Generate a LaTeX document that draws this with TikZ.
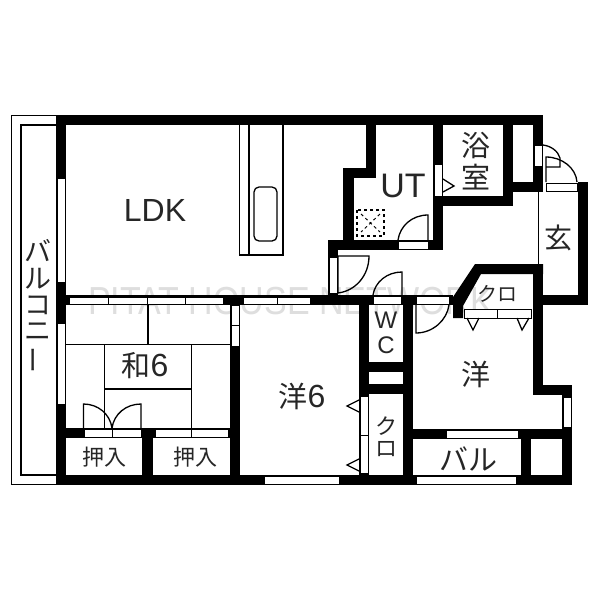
\documentclass[tikz,border=0pt]{standalone}
\usepackage{fontspec}
\setmainfont{Liberation Sans}
\newfontfamily\cjk{Noto Sans CJK JP}
\newcommand{\fs}[1]{\fontsize{#1}{#1}\selectfont}
\tikzset{
wall/.style={fill=black},
cellbox/.style={draw=black,fill=white,line width=1pt},
thin line/.style={line width=1.3pt},
label/.style={inner sep=0pt,text=black!85},
}
\begin{document}
\begin{tikzpicture}[x=1pt,y=-1pt]
\useasboundingbox (0,0) rectangle (600,600);
\fill[white] (0,0) rectangle (600,600);
% watermark
\node[inner sep=0pt,anchor=west,text=black!13,yscale=1.15] (mark) at (88,301) {\fs{34}PITAT HOUSE NETWORK};
% balcony
\draw[line width=1.5pt] (56,115.5) -- (11.5,115.5) -- (11.5,484.5) -- (56,484.5);
\draw[line width=1.5pt] (56,125) -- (21,125) -- (21,475) -- (56,475);
% kitchen
\draw[thin line] (239.5,125) -- (239.5,255) -- (283,255) -- (283,125);
\draw[thin line] (249,125) -- (249,255);
\draw[thin line,rounded corners=5pt] (254,187) rectangle (277,241);
% tatami
\draw[thin line] (66,344.5) -- (230,344.5);
\draw[thin line] (148,305) -- (148,344.5);
\draw[thin line] (104.5,344.5) -- (104.5,428);
\draw[thin line] (191.5,344.5) -- (191.5,428);
\draw[thin line] (104.5,389) -- (191.5,389);
% outer walls
\fill[wall] (56,115) rectangle (543,125);
\fill[wall] (56,115) rectangle (66,485);
\fill[wall] (56,475) rectangle (572,485);
% walls left side
\fill[wall] (66,295) rectangle (373,305);
\fill[wall] (230,295) rectangle (240,485);
\fill[wall] (66,428) rectangle (230,438);
\fill[wall] (142,428) rectangle (153,485);
% walls middle
\fill[wall] (359,295) rectangle (369,475);
\fill[wall] (403,295) rectangle (413,485);
\fill[wall] (369,362) rectangle (403,372);
\fill[wall] (369,384) rectangle (403,394);
\fill[wall] (373,295) rectangle (453,305);
% walls UT and bath
\fill[wall] (366,115) rectangle (376,178);
\fill[wall] (343,168) rectangle (376,178);
\fill[wall] (343,168) rectangle (354,250);
\fill[wall] (328,240) rectangle (443,250);
\fill[wall] (328,240) rectangle (338,305);
\fill[wall] (433,115) rectangle (443,250);
\fill[wall] (433,196) rectangle (513,206);
\fill[wall] (503,115) rectangle (513,206);
\fill[wall] (503,182) rectangle (543,192);
% walls entrance and right room
\fill[wall] (533,115) rectangle (543,192);
\fill[wall] (533,264) rectangle (543,395);
\fill[wall] (578,182) rectangle (588,305);
\fill[wall] (533,295) rectangle (588,305);
\fill[wall] (533,385) rectangle (572,395);
\fill[wall] (562,385) rectangle (572,485);
\fill[wall] (413,429) rectangle (572,439);
\fill[wall] (521,429) rectangle (531,485);
\fill[wall] (475,264) -- (543,264) -- (543,274) -- (481,274) -- (463,306) -- (463,318) -- (453,318) -- (453,297) -- cycle;
% entrance step
\draw[line width=1pt] (538,192) -- (538,264);
% windows
\draw[cellbox] (57,178) rectangle (65,282);
\draw[cellbox] (57,323) rectangle (65,404);
\foreach \xa/\xb in {69/108,108/147,147/185,185/223,243/277,277/310}
  \draw[cellbox] (\xa,297) rectangle (\xb,304);
\draw[cellbox] (231,305) rectangle (239,325);
\draw[cellbox] (231,325) rectangle (239,346);
\foreach \xa/\xb in {84/112,112/141,155/191,191/228}
  \draw[cellbox] (\xa,429) rectangle (\xb,437);
\draw[cellbox] (264,476) rectangle (339,484);
\draw[cellbox] (416,476) rectangle (516,484);
\draw[cellbox] (446,430) rectangle (518,438);
\draw[cellbox] (563,397) rectangle (571,427);
\draw[cellbox] (360,396) rectangle (368,435);
\draw[cellbox] (360,435) rectangle (368,473);
\draw[cellbox] (373,296) rectangle (401,304);
\draw[cellbox] (416,296) rectangle (449,304);
\draw[cellbox] (464,309) rectangle (497,318);
\draw[cellbox] (497,309) rectangle (531,318);
\draw[cellbox] (434,164) rectangle (442,196);
\draw[cellbox] (398,241) rectangle (428,249);
\draw[cellbox] (329,257) rectangle (337,293);
\draw[cellbox] (534,145) rectangle (542,166);
\draw[cellbox] (546,183) rectangle (577,191);
% doors
\draw[thin line] (83.5,428) -- (83.5,404) .. controls (98,404) and (110,414) .. (112,428);
\draw[thin line] (141,428) -- (141,404) .. controls (126,404) and (114,414) .. (112,428);
\draw[thin line] (402,295) -- (402,272) .. controls (387,272) and (375,282) .. (373,295);
\draw[thin line] (416,305) -- (416,333) .. controls (433,333) and (447,320) .. (449,305);
\draw[thin line] (428,240) -- (428,215) .. controls (412,215) and (400,226) .. (398,240);
\draw[thin line] (338,293) -- (338,256) -- (369,256) .. controls (369,276) and (355,291) .. (338,293);
\draw[thin line] (543,145) .. controls (551,146) and (558,151) .. (560,158) -- (560,167) -- (546,167);
\draw[thin line] (546,182) -- (546,157) .. controls (562,157) and (576,168) .. (577,182);
% triangles
\draw[thin line] (443,179) -- (454,186) -- (443,192);
\draw[thin line] (359,400) -- (347,406) -- (359,412);
\draw[thin line] (359,459) -- (347,465) -- (359,471);
\draw[thin line] (467,318) -- (473,330) -- (479,318);
\draw[thin line] (517,318) -- (522,330) -- (529,318);
% pan
\draw[line width=1.5pt,dashed] (357,210) rectangle (384,236);
\draw[line width=1pt,dashed] (361,214) -- (380,232) (380,214) -- (361,232);
% labels
\node[label] (ldk) at (155,210) {\fs{32}LDK};
\node[label] (ut) at (403,186) {\fs{34}UT};
\node[label] (yoku) at (476,146) {\cjk\fs{29}浴};
\node[label] (shitsu) at (476,177) {\cjk\fs{29}室};
\node[label] (gen) at (558,238) {\cjk\fs{28}玄};
\node[label] (kuro a) at (497,294) {\cjk\fs{20}クロ};
\node[label] (w) at (386,320) {\fs{24}W};
\node[label] (c) at (386,345) {\fs{24}C};
\node[label] (kuro b) at (386,426) {\cjk\fs{22}ク};
\node[label] (kuro c) at (386,449) {\cjk\fs{22}ロ};
\node[label] (you) at (476,374) {\cjk\fs{29}洋};
\node[label] (bal) at (468,459) {\cjk\fs{29}バル};
\node[label] (you six) at (302,396) {\cjk\fs{29}洋\rmfamily\fs{32}6};
\node[label] (wa six) at (145,366) {\cjk\fs{29}和\rmfamily\fs{32}6};
\node[label] (oshi a) at (104,457) {\cjk\fs{22}押入};
\node[label] (oshi b) at (195,457) {\cjk\fs{22}押入};
\node[label] (ba) at (38,251) {\cjk\fs{27}バ};
\node[label] (ru) at (38,279) {\cjk\fs{27}ル};
\node[label] (ko) at (38,305) {\cjk\fs{27}コ};
\node[label] (ni) at (38,332) {\cjk\fs{27}ニ};
\node[label,rotate=90] (nobi) at (38,360) {\cjk\fs{27}ー};
\end{tikzpicture}
\end{document}
